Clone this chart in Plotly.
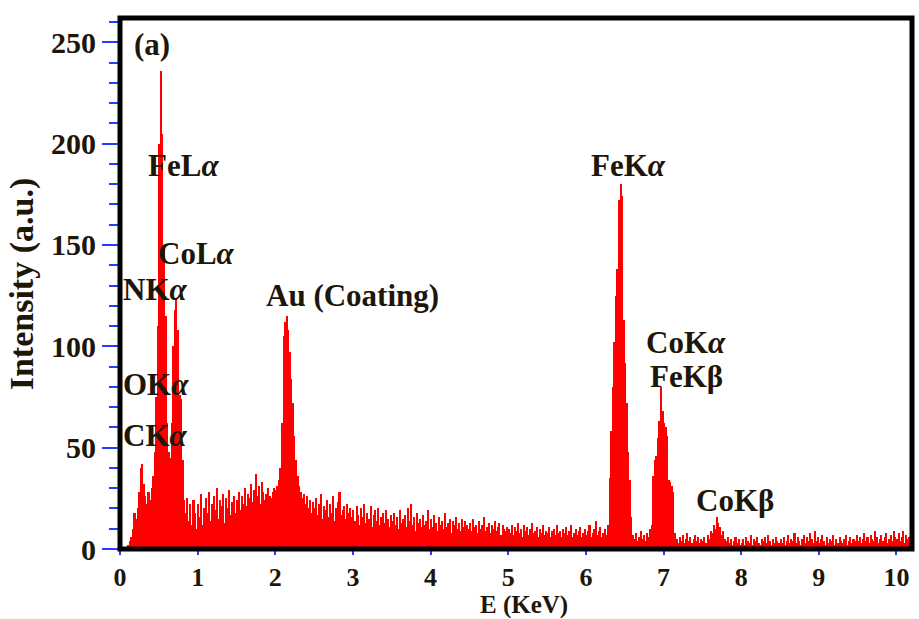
import numpy as np
import plotly.graph_objects as go

# Channel width (keV) and start energy of each channel
channel_width = 0.02
counts = [
    # 0.00 - 0.48
    0, 0, 0, 0, 0, 2, 4, 6, 10, 18, 15, 20, 28, 40, 42, 32, 26, 22, 28, 24, 30, 36, 48, 75, 110,
    # 0.50 - 0.98
    200, 236, 205, 150, 115, 62, 48, 45, 62, 100, 118, 124, 108, 76, 74, 44, 24, 18, 25, 14, 22, 12, 24, 18, 10,
    # 1.00 - 1.48
    22, 16, 27, 12, 20, 25, 18, 28, 14, 22, 26, 19, 30, 15, 24, 21, 27, 13, 25, 20, 29, 17, 23, 26, 18,
    # 1.50 - 1.98
    24, 28, 19, 26, 22, 30, 21, 27, 25, 32, 23, 29, 37, 26, 31, 22, 33, 28, 24, 27, 30, 26, 25, 28, 30,
    # 2.00 - 2.48
    29, 31, 34, 40, 62, 105, 112, 115, 108, 97, 84, 72, 56, 44, 36, 31, 28, 25, 27, 22, 26, 20, 24, 18, 23,
    # 2.50 - 2.98
    20, 25, 17, 22, 27, 15, 21, 19, 24, 16, 22, 18, 26, 14, 20, 23, 28, 17, 19, 21, 15, 22, 18, 20, 16,
    # 3.00 - 3.48
    19, 14, 21, 17, 12, 20, 16, 22, 13, 18, 15, 21, 11, 17, 19, 14, 20, 12, 16, 18, 13, 19, 15, 11, 17,
    # 3.50 - 3.98
    14, 18, 12, 16, 10, 19, 13, 15, 17, 11, 20, 14, 22, 12, 16, 9, 18, 13, 15, 11, 17, 12, 14, 19, 10,
    # 4.00 - 4.48
    15, 11, 17, 13, 9, 16, 12, 14, 10, 18, 11, 13, 15, 8, 14, 12, 16, 10, 13, 9, 15, 11, 14, 12, 10,
    # 4.50 - 4.98
    13, 9, 15, 11, 12, 8, 14, 10, 12, 16, 9, 11, 13, 8, 12, 10, 14, 9, 11, 13, 7, 12, 10, 9, 11,
    # 5.00 - 5.48
    10, 8, 12, 7, 11, 9, 13, 8, 10, 6, 12, 9, 11, 7, 10, 13, 8, 9, 11, 6, 10, 8, 12, 7, 9,
    # 5.50 - 5.98
    8, 11, 6, 9, 10, 7, 12, 8, 9, 6, 10, 8, 11, 7, 9, 12, 6, 8, 10, 7, 9, 11, 6, 8, 10,
    # 6.00 - 6.48
    7, 9, 12, 6, 8, 10, 14, 7, 9, 11, 6, 8, 10, 7, 12, 35, 58, 80, 102, 125, 138, 172, 180, 174, 113,
    # 6.50 - 6.98
    92, 72, 48, 34, 16, 7, 5, 8, 4, 6, 9, 5, 7, 4, 8, 6, 10, 12, 36, 44, 46, 55, 63, 80, 68,
    # 7.00 - 7.48
    62, 60, 56, 34, 33, 31, 28, 8, 5, 3, 6, 4, 7, 3, 5, 8, 4, 6, 3, 5, 7, 4, 6, 3, 5,
    # 7.50 - 7.98
    4, 6, 3, 7, 5, 9, 8, 12, 10, 16, 13, 11, 7, 9, 5, 4, 6, 3, 5, 2, 4, 6, 3, 5, 2,
    # 8.00 - 8.48
    3, 5, 2, 6, 4, 3, 7, 2, 5, 4, 6, 3, 2, 5, 4, 6, 3, 7, 4, 2, 5, 3, 6, 4, 3,
    # 8.50 - 8.98
    5, 3, 6, 2, 4, 7, 3, 5, 4, 8, 3, 6, 4, 2, 5, 7, 3, 6, 4, 8, 5, 3, 9, 4, 6,
    # 9.00 - 9.48
    3, 5, 7, 4, 2, 6, 3, 5, 4, 7, 2, 5, 3, 6, 4, 3, 5, 7, 2, 4, 6, 3, 5, 4, 7,
    # 9.50 - 9.98
    4, 6, 3, 5, 8, 4, 6, 3, 7, 5, 4, 9, 6, 3, 5, 7, 4, 6, 8, 3, 5, 7, 4, 9, 6,
    # 10.00 - 10.18
    5, 8, 4, 6, 9, 3, 7, 5, 6, 4,
]
energy = [round(i * channel_width + channel_width / 2, 3) for i in range(len(counts))]

x_ticks = [0, 1, 2, 3, 4, 5, 6, 7, 8, 9, 10]
y_ticks = [0, 50, 100, 150, 200, 250]

peak_labels = ["(a)", "FeL<i>α</i>", "CoL<i>α</i>", "NK<i>α</i>", "Au (Coating)",
               "OK<i>α</i>", "CK<i>α</i>", "FeK<i>α</i>", "CoK<i>α</i>", "FeKβ", "CoKβ"]
label_x = [0.16, 0.34, 0.47, 0.01, 1.85, 0.01, 0.01, 6.04, 6.75, 6.80, 7.39]
label_y = [249, 189, 146, 128, 125, 81, 56, 189, 102, 85, 24]

TXT = "#1e1608"
TICK = "#2a3cff"
FONT = "Liberation Serif"

fig = go.Figure()
fig.add_trace(go.Bar(
    x=energy, y=counts, width=channel_width,
    marker=dict(color="#ff0000", line=dict(width=0)),
    hoverinfo="skip",
))

for t, x, y in zip(peak_labels, label_x, label_y):
    fig.add_annotation(x=x, y=y, xref="x", yref="y", text=t, showarrow=False,
                       xanchor="left", yanchor="middle",
                       font=dict(family=FONT, size=31, color=TXT, weight="bold"))

fig.add_annotation(x=0.51, y=-0.1318, xref="paper", yref="paper", text="E (KeV)",
                   showarrow=False, xanchor="center", yanchor="bottom", borderpad=0,
                   borderwidth=0,
                   font=dict(family=FONT, size=25, color=TXT, weight="bold"))
fig.add_annotation(x=-0.124, y=0.5, xref="paper", yref="paper", text="Intensity (a.u.)",
                   showarrow=False, xanchor="center", yanchor="middle", textangle=-90,
                   font=dict(family=FONT, size=34, color=TXT, weight="bold"))

fig.add_shape(type="rect", xref="paper", yref="paper", x0=0, x1=1, y0=0, y1=1,
              line=dict(color="black", width=5), layer="above")

fig.update_layout(
    width=919, height=619,
    margin=dict(l=120, r=7, t=18, b=70),
    paper_bgcolor="white", plot_bgcolor="white",
    bargap=0, showlegend=False,
    xaxis=dict(range=[0, 10.2], tickvals=x_ticks, ticks="outside", ticklen=5,
               tickwidth=2, tickcolor=TICK, showgrid=False, zeroline=False,
               showline=False,
               tickfont=dict(family=FONT, size=26, color=TXT, weight="bold")),
    yaxis=dict(range=[0, 262], tickvals=y_ticks, ticks="outside", ticklen=17,
               tickwidth=2, tickcolor=TICK, showgrid=False, zeroline=False,
               showline=False,
               minor=dict(dtick=10, tick0=0, ticks="outside", ticklen=10,
                          tickwidth=2, tickcolor=TICK, showgrid=False),
               tickfont=dict(family=FONT, size=30, color=TXT, weight="bold")),
)

fig.write_html("out.html", config={"displayModeBar": False})
